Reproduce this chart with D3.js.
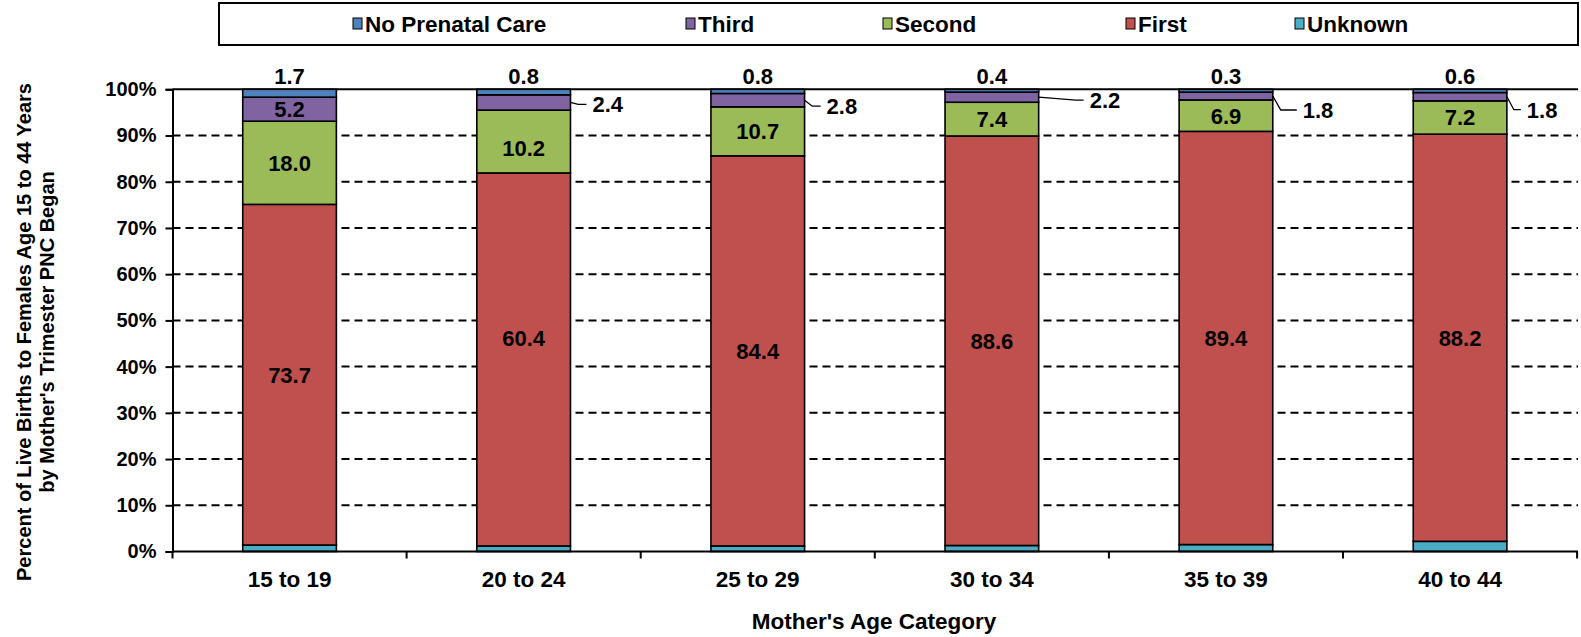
<!DOCTYPE html>
<html>
<head>
<meta charset="utf-8">
<script src="https://cdn.jsdelivr.net/npm/d3@7"></script>
<style>
  html, body { margin: 0; padding: 0; background: #fff; }
  svg { display: block; }
  text { font-family: "Liberation Sans", Arial, sans-serif; font-weight: bold; fill: #000; }
</style>
</head>
<body>
<svg id="chart" width="1581" height="637"></svg>
<script>
// ---- data ----
const categories = ["15 to 19", "20 to 24", "25 to 29", "30 to 34", "35 to 39", "40 to 44"];
const seriesNames = ["Unknown", "First", "Second", "Third", "No Prenatal Care"]; // bottom -> top
const unknownVals = [1.4, 1.2, 1.2, 1.3, 1.5, 2.2];
const firstVals   = [73.7, 80.7, 84.4, 88.6, 89.4, 88.1];
const secondVals  = [18.0, 13.6, 10.6, 7.3, 6.8, 7.2];
const thirdVals   = [5.2, 3.3, 2.9, 2.2, 1.7, 1.8];
const noCareVals  = [1.7, 1.2, 0.9, 0.6, 0.6, 0.7];

// printed data labels (as shown in the reference)
const firstLabels  = ["73.7", "60.4", "84.4", "88.6", "89.4", "88.2"];
const secondLabels = ["18.0", "10.2", "10.7", "7.4", "6.9", "7.2"];
const thirdLabels  = ["5.2", "2.4", "2.8", "2.2", "1.8", "1.8"];
const noCareLabels = ["1.7", "0.8", "0.8", "0.4", "0.3", "0.6"];

const yTicks = [0, 10, 20, 30, 40, 50, 60, 70, 80, 90, 100];
const legendOrder = ["No Prenatal Care", "Third", "Second", "First", "Unknown"];

// ---- styling / layout ----
const colors = {
  "Unknown": "#4BACC6",
  "First": "#C0504D",
  "Second": "#9BBB59",
  "Third": "#8064A2",
  "No Prenatal Care": "#4F81BD"
};
const legendX = [353, 686, 883, 1126, 1295];
// third-trimester label placement: inside (null) or outside with leader [dx, dy]
const thirdOutside = [null, [22, 2], [22, 6], [51, 3], [30, 14], [20, 13]];
const firstNudge  = [0, -21, 0, 0, 0, 0];
const secondNudge = [0, 7, 0, 0, 0, 0];

const svg = d3.select("#chart");
const M = { left: 172.5, right: 1578, top: 89.3, bottom: 551.5 };

const rows = categories.map((c, i) => ({
  cat: c,
  "Unknown": unknownVals[i],
  "First": firstVals[i],
  "Second": secondVals[i],
  "Third": thirdVals[i],
  "No Prenatal Care": noCareVals[i]
}));
const stacked = d3.stack().keys(seriesNames)(rows);

const x = d3.scaleBand().domain(categories).range([M.left, M.left + 6 * 234.1]).padding(0);
const y = d3.scaleLinear().domain([0, 100]).range([M.bottom, M.top]);
const barW = x.bandwidth() * 0.4;
const barX = c => x(c) + (x.bandwidth() - barW) / 2;

// gridlines (dashed)
svg.append("g").selectAll("line").data(yTicks.filter(t => t > 0 && t < 100)).join("line")
  .attr("x1", M.left).attr("x2", M.right)
  .attr("y1", d => y(d)).attr("y2", d => y(d))
  .attr("stroke", "#000").attr("stroke-width", 2).attr("stroke-dasharray", "8,5");
// top border
svg.append("line").attr("x1", M.left).attr("x2", M.right).attr("y1", y(100)).attr("y2", y(100))
  .attr("stroke", "#000").attr("stroke-width", 2);

// bars
const layers = svg.append("g").selectAll("g").data(stacked).join("g")
  .attr("fill", d => colors[d.key]);
layers.selectAll("rect").data(d => d).join("rect")
  .attr("x", d => barX(d.data.cat))
  .attr("width", barW)
  .attr("y", d => y(d[1]))
  .attr("height", d => y(d[0]) - y(d[1]))
  .attr("stroke", "#000").attr("stroke-width", 1.6);

// y axis
const yAxis = d3.axisLeft(y).tickValues(yTicks).tickFormat(d => d + "%").tickSize(7).tickPadding(9);
const gy = svg.append("g").attr("transform", `translate(${M.left},0)`).call(yAxis);
gy.select(".domain").attr("stroke", "#000").attr("stroke-width", 2);
gy.selectAll(".tick line").attr("stroke", "#000").attr("stroke-width", 2);
gy.selectAll(".tick text").style("font-size", "20px").style("font-family", '"Liberation Sans", Arial, sans-serif').style("font-weight", "bold").attr("fill", "#000");

// x axis line and tick marks at category boundaries
svg.append("line").attr("x1", M.left).attr("x2", M.right).attr("y1", M.bottom).attr("y2", M.bottom)
  .attr("stroke", "#000").attr("stroke-width", 2);
const bounds = categories.map(c => x(c)).concat([x(categories[categories.length - 1]) + x.bandwidth()]);
svg.append("g").selectAll("line").data(bounds).join("line")
  .attr("x1", d => d).attr("x2", d => d).attr("y1", M.bottom).attr("y2", M.bottom + 7)
  .attr("stroke", "#000").attr("stroke-width", 2);
svg.append("g").selectAll("text").data(categories).join("text")
  .attr("x", d => x(d) + x.bandwidth() / 2).attr("y", 587)
  .attr("text-anchor", "middle").style("font-size", "22.5px").text(d => d);

// axis titles
svg.append("text").attr("x", 874).attr("y", 629).attr("text-anchor", "middle")
  .style("font-size", "22.5px").text("Mother's Age Category");
const yt = svg.append("g").attr("transform", "translate(0,332) rotate(-90)");
yt.append("text").attr("x", 0).attr("y", 31).attr("text-anchor", "middle").style("font-size", "20px")
  .text("Percent of Live Births to Females Age 15 to 44 Years");
yt.append("text").attr("x", 0).attr("y", 54).attr("text-anchor", "middle").style("font-size", "20px")
  .text("by Mother's Trimester PNC Began");

// data labels
const lbl = svg.append("g").style("font-size", "22px");
const S = name => stacked.find(s => s.key === name);
S("First").forEach((d, i) => {
  lbl.append("text").attr("x", barX(d.data.cat) + barW / 2)
    .attr("y", (y(d[0]) + y(d[1])) / 2 + firstNudge[i]).attr("dy", "0.36em")
    .attr("text-anchor", "middle").text(firstLabels[i]);
});
S("Second").forEach((d, i) => {
  lbl.append("text").attr("x", barX(d.data.cat) + barW / 2)
    .attr("y", (y(d[0]) + y(d[1])) / 2 + secondNudge[i]).attr("dy", "0.36em")
    .attr("text-anchor", "middle").text(secondLabels[i]);
});
S("Third").forEach((d, i) => {
  const mid = (y(d[0]) + y(d[1])) / 2;
  const o = thirdOutside[i];
  if (!o) {
    lbl.append("text").attr("x", barX(d.data.cat) + barW / 2).attr("y", mid).attr("dy", "0.36em")
      .attr("text-anchor", "middle").text(thirdLabels[i]);
  } else {
    const right = barX(d.data.cat) + barW;
    const ly = mid + o[1];
    const lx = right + o[0];
    const pts = [[right, mid], [right + Math.min(8, o[0] * 0.35), ly], [lx - 6, ly]];
    if (o[0] > 40) { pts.splice(1, 1, [lx - 14, ly]); }
    svg.append("path").attr("d", d3.line()(pts)).attr("fill", "none")
      .attr("stroke", "#000").attr("stroke-width", 1.3);
    lbl.append("text").attr("x", lx).attr("y", ly).attr("dy", "0.36em").text(thirdLabels[i]);
  }
});
S("No Prenatal Care").forEach((d, i) => {
  lbl.append("text").attr("x", barX(d.data.cat) + barW / 2).attr("y", 84)
    .attr("text-anchor", "middle").text(noCareLabels[i]);
});

// legend
svg.append("rect").attr("x", 219).attr("y", 3).attr("width", 1359).attr("height", 42)
  .attr("fill", "#fff").attr("stroke", "#000").attr("stroke-width", 2);
const lg = svg.append("g").selectAll("g").data(legendOrder).join("g")
  .attr("transform", (d, i) => `translate(${legendX[i]},24)`);
lg.append("rect").attr("x", 0).attr("y", -6).attr("width", 9).attr("height", 11)
  .attr("fill", d => colors[d]).attr("stroke", "#000").attr("stroke-width", 1);
lg.append("text").attr("x", 12).attr("dy", "0.36em").style("font-size", "22.5px").text(d => d);
</script>
</body>
</html>
